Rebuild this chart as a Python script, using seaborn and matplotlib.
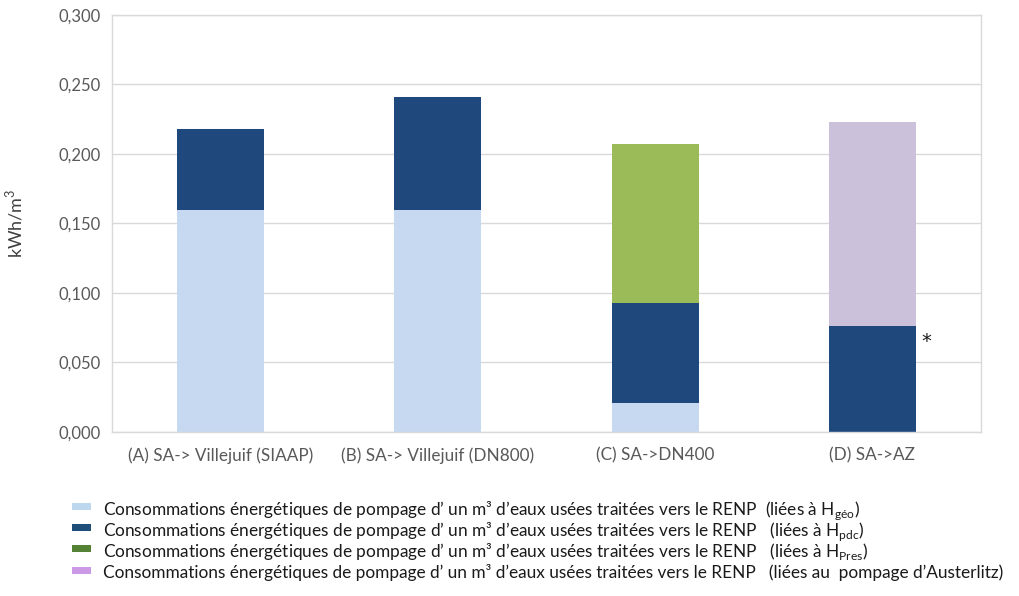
"""Consommations énergétiques de pompage par tracé (barres empilées)."""

import matplotlib

matplotlib.use("Agg")
import matplotlib.pyplot as plt
import numpy as np
import pandas as pd
import seaborn as sns
from matplotlib.patches import Rectangle
from matplotlib.ticker import FuncFormatter

TRACES = [
    "(A) SA-> Villejuif (SIAAP)",
    "(B) SA-> Villejuif (DN800)",
    "(C) SA->DN400",
    "(D) SA->AZ",
]
H_GEO = [0.160, 0.160, 0.021, 0.0]
H_PDC = [0.058, 0.081, 0.072, 0.076]
H_PRES = [0.0, 0.0, 0.114, 0.0]
AUSTERLITZ = [0.0, 0.0, 0.0, 0.147]

BASE = "Consommations énergétiques de pompage d’ un m³ d’eaux usées traitées vers le RENP"
LEGENDES = [
    BASE + "  (liées à H$_{\\mathregular{géo}}$)",
    BASE + "   (liées à H$_{\\mathregular{pdc}}$)",
    BASE + "   (liées à H$_{\\mathregular{Pres}}$)",
    BASE + "   (liées au  pompage d’Austerlitz)",
]
COULEURS = ["#C6D9F0", "#1F497D", "#9BBB59", "#CCC1DA"]
COULEURS_LEG = ["#BDD7EE", "#1F4E79", "#548235", "#CC99E6"]

sns.set_style("white")
plt.rcParams["font.family"] = ["Lato", "DejaVu Sans"]
plt.rcParams["mathtext.fontset"] = "custom"
plt.rcParams["mathtext.rm"] = "Lato"

df = pd.DataFrame({"trace": TRACES, "geo": H_GEO, "pdc": H_PDC,
                   "pres": H_PRES, "aus": AUSTERLITZ})

fig = plt.figure(figsize=(10.2, 5.96), dpi=100)
ax = fig.add_axes([0.1098, 0.2752, 0.852, 0.6997])

bas = np.zeros(len(TRACES))
for col, couleur in zip(["geo", "pdc", "pres", "aus"], COULEURS):
    sns.barplot(data=df, x="trace", y=col, bottom=bas, color=couleur,
                width=0.4, ax=ax, saturation=1, linewidth=0)
    bas = bas + df[col].to_numpy()

ax.text(3 + 0.25, H_PDC[3] - 0.011, "*", fontsize=14, ha="center", va="center",
        family="DejaVu Sans", color="#1a1a1a")

ax.set_xlim(-0.5, 3.5)
ax.set_ylim(0, 0.300)
ax.set_yticks(np.arange(0, 0.301, 0.05))
ax.yaxis.set_major_formatter(FuncFormatter(lambda v, p: f"{v:.3f}".replace(".", ",")))
ax.grid(axis="y", color="#D9D9D9", linewidth=1)
ax.set_axisbelow(True)
for s in ax.spines.values():
    s.set_color("#D9D9D9")
    s.set_linewidth(1)
ax.tick_params(axis="y", length=0, labelsize=12, colors="#595959", pad=8)
ax.tick_params(axis="x", length=0, labelsize=12.3, colors="#595959", pad=11)
ax.set_xlabel("")
ax.set_ylabel("kWh/m$^{\\mathregular{3}}$", fontsize=13, color="#404040", labelpad=24)

# légende dessinée ligne par ligne pour garder un interligne régulier
y_lignes = [506, 527, 548, 570]
for y_px, texte, c in zip(y_lignes, LEGENDES, COULEURS_LEG):
    y = 1 - y_px / 596
    fig.add_artist(Rectangle((72 / 1020, y - 3.5 / 596), 19 / 1020, 7 / 596,
                             facecolor=c, edgecolor="none", transform=fig.transFigure))
    fig.text(103 / 1020, y - 1 / 596, texte, fontsize=12.4, color="#1a1a1a",
             ha="left", va="center_baseline")

plt.savefig("out.png", dpi=100)
plt.close()
